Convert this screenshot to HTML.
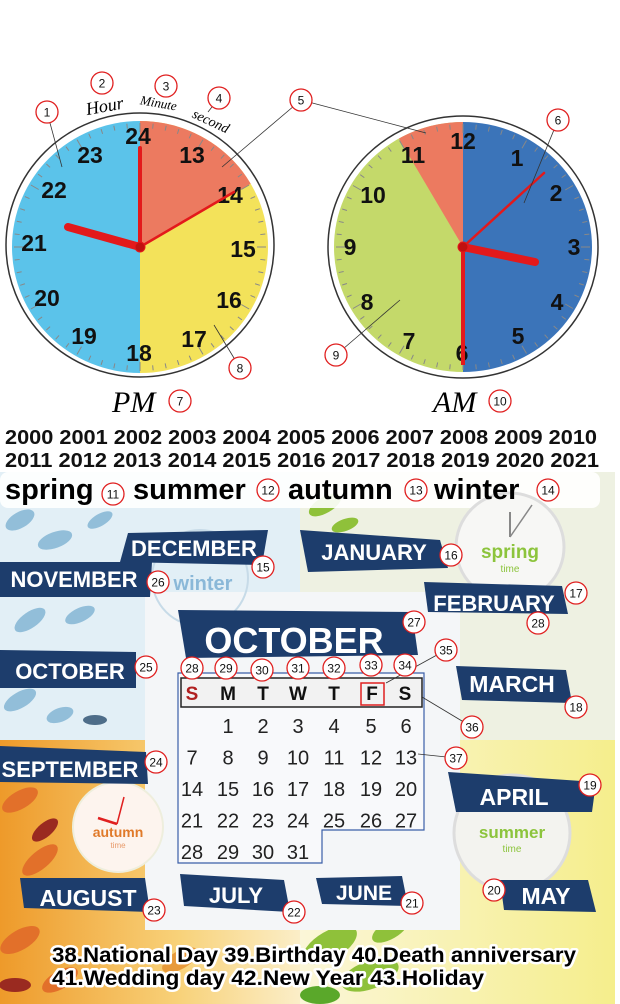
<!DOCTYPE html>
<html><head><meta charset="utf-8"><style>
html,body{margin:0;padding:0;background:#fff;}
svg{display:block;}
text{font-family:"Liberation Sans",sans-serif;}
.num{font-weight:bold;font-size:23px;fill:#111;text-anchor:middle;}
.ban{font-weight:bold;fill:#fff;text-anchor:middle;}
.yr{font-weight:bold;font-size:20px;fill:#111;}
.cc{fill:#fff;stroke:#e02020;stroke-width:1.3;}
.ct{font-size:12px;fill:#111;text-anchor:middle;}
.cal{font-size:20px;fill:#222;text-anchor:middle;}
</style></head><body>
<svg id="s" width="620" height="1004" viewBox="0 0 620 1004" xmlns="http://www.w3.org/2000/svg">
<defs>
<clipPath id="pmclip"><ellipse cx="140" cy="247" rx="128" ry="126"/></clipPath>
<clipPath id="amclip"><ellipse cx="463" cy="247" rx="129" ry="125"/></clipPath>
<linearGradient id="org" x1="0" y1="0" x2="1" y2="0"><stop offset="0" stop-color="#ee9a2a"/><stop offset="0.6" stop-color="#f8d27a"/><stop offset="1" stop-color="#fbeec8"/></linearGradient>
<linearGradient id="yel" x1="0" y1="0" x2="1" y2="0"><stop offset="0" stop-color="#fbf6d8"/><stop offset="1" stop-color="#f5ee8c"/></linearGradient>
</defs>

<!-- PM clock -->
<g>
<ellipse cx="140" cy="245" rx="134" ry="132" fill="#fff" stroke="#333" stroke-width="1.5"/>
<g clip-path="url(#pmclip)">
<rect x="0" y="100" width="140" height="300" fill="#5bc3ea"/>
<rect x="140" y="100" width="160" height="300" fill="#f3e25a"/>
<polygon points="140,247 140,90 364,90 364,119" fill="#ec7a60"/>
</g>
<g id="pmticks"></g>
</g>
<!-- AM clock -->
<g>
<ellipse cx="463" cy="247" rx="135" ry="131" fill="#fff" stroke="#333" stroke-width="1.5"/>
<g clip-path="url(#amclip)">
<rect x="320" y="100" width="143" height="300" fill="#c4d96a"/>
<rect x="463" y="100" width="150" height="300" fill="#3b74b9"/>
<polygon points="463,247 333,27 463,27" fill="#ec7a60"/>
</g>
<g id="amticks"></g>
</g>

<g>
<text class="num" x="138" y="144">24</text><text class="num" x="90" y="163">23</text><text class="num" x="192" y="163">13</text>
<text class="num" x="54" y="198">22</text><text class="num" x="230" y="203">14</text><text class="num" x="34" y="251">21</text>
<text class="num" x="243" y="257">15</text><text class="num" x="47" y="306">20</text><text class="num" x="229" y="308">16</text>
<text class="num" x="84" y="344">19</text><text class="num" x="194" y="347">17</text><text class="num" x="139" y="361">18</text>
</g>
<g>
<text class="num" x="463" y="149">12</text><text class="num" x="413" y="163">11</text><text class="num" x="517" y="166">1</text>
<text class="num" x="373" y="203">10</text><text class="num" x="556" y="201">2</text><text class="num" x="350" y="255">9</text>
<text class="num" x="574" y="255">3</text><text class="num" x="367" y="310">8</text><text class="num" x="557" y="310">4</text>
<text class="num" x="409" y="349">7</text><text class="num" x="518" y="344">5</text><text class="num" x="462" y="361">6</text>
</g>
<g stroke="#e3191b" stroke-linecap="round">
<line x1="140" y1="247" x2="140" y2="148" stroke-width="4"/>
<line x1="140" y1="247" x2="68" y2="227" stroke-width="8"/>
<line x1="140" y1="247" x2="234" y2="192" stroke-width="2.5"/>
<circle cx="140" cy="247" r="5" fill="#c01010"/>
<line x1="463" y1="247" x2="544" y2="173" stroke-width="2.5"/>
<line x1="463" y1="247" x2="535" y2="262" stroke-width="8"/>
<line x1="463" y1="247" x2="463" y2="365" stroke-width="4" stroke-linecap="butt"/>
<circle cx="463" cy="247" r="5" fill="#c01010"/>
</g>
<g font-family="Liberation Serif" font-style="italic">
<text x="86" y="112" font-size="18" transform="rotate(-10 104 108)" style="font-family:'Liberation Serif',serif">Hour</text>
<text x="140" y="108" font-size="13" transform="rotate(10 162 104)" style="font-family:'Liberation Serif',serif">Minute</text>
<text x="192" y="126" font-size="14" transform="rotate(25 212 120)" style="font-family:'Liberation Serif',serif">second</text>
<text x="112" y="412" font-size="30" style="font-family:'Liberation Serif',serif">PM</text>
<text x="433" y="412" font-size="30" style="font-family:'Liberation Serif',serif">AM</text>
</g>
<g stroke="#333" stroke-width="0.8">
<line x1="301" y1="100" x2="222" y2="167"/><line x1="301" y1="100" x2="426" y2="133"/>
<line x1="47" y1="112" x2="62" y2="167"/><line x1="558" y1="120" x2="524" y2="203"/>
<line x1="240" y1="368" x2="214" y2="325"/><line x1="336" y1="355" x2="400" y2="300"/>
<line x1="166" y1="86" x2="160" y2="95"/><line x1="219" y1="98" x2="208" y2="112"/>
</g>

<!-- Years -->
<g>
<text class="yr" x="5" y="444" textLength="592" lengthAdjust="spacingAndGlyphs">2000 2001 2002 2003 2004 2005 2006 2007 2008 2009 2010</text>
<text class="yr" x="5" y="467" textLength="594" lengthAdjust="spacingAndGlyphs">2011 2012 2013 2014 2015 2016 2017 2018 2019 2020 2021</text>
</g>

<!-- Background collage -->
<g>
<rect x="0" y="472" width="300" height="268" fill="#e2eff6"/>
<rect x="300" y="472" width="315" height="268" fill="#eef1e2"/>
<rect x="0" y="740" width="300" height="264" fill="url(#org)"/>
<rect x="300" y="740" width="315" height="264" fill="url(#yel)"/>
<g fill="#7fb3d3" opacity="0.8">
<ellipse cx="20" cy="520" rx="16" ry="8" transform="rotate(-30 20 520)"/><ellipse cx="55" cy="540" rx="18" ry="8" transform="rotate(-20 55 540)"/>
<ellipse cx="30" cy="620" rx="18" ry="8" transform="rotate(-35 30 620)"/><ellipse cx="80" cy="615" rx="16" ry="7" transform="rotate(-25 80 615)"/>
<ellipse cx="20" cy="700" rx="18" ry="8" transform="rotate(-30 20 700)"/><ellipse cx="60" cy="715" rx="14" ry="7" transform="rotate(-20 60 715)"/>
<ellipse cx="100" cy="520" rx="14" ry="6" transform="rotate(-30 100 520)"/><ellipse cx="95" cy="720" rx="12" ry="5" fill="#2a4d6e"/>
</g>
<g fill="#8fc13a">
<ellipse cx="325" cy="505" rx="18" ry="8" transform="rotate(-30 325 505)"/><ellipse cx="345" cy="525" rx="14" ry="6" transform="rotate(-20 345 525)"/>
<ellipse cx="330" cy="945" rx="30" ry="14" transform="rotate(-30 330 945)"/><ellipse cx="370" cy="975" rx="30" ry="14" transform="rotate(-20 370 975)"/>
<ellipse cx="320" cy="995" rx="20" ry="9" fill="#5aa82a"/><ellipse cx="390" cy="930" rx="20" ry="9" transform="rotate(-30 390 930)"/>
</g>
<g fill="#e2702a">
<ellipse cx="20" cy="800" rx="20" ry="9" transform="rotate(-30 20 800)"/><ellipse cx="40" cy="860" rx="22" ry="9" transform="rotate(-40 40 860)"/>
<ellipse cx="20" cy="940" rx="22" ry="10" transform="rotate(-30 20 940)"/><ellipse cx="60" cy="980" rx="20" ry="9" transform="rotate(-30 60 980)"/>
<ellipse cx="45" cy="830" rx="16" ry="7" fill="#9a2a20" transform="rotate(-40 45 830)"/><ellipse cx="15" cy="985" rx="16" ry="7" fill="#9a2a20"/>
<ellipse cx="180" cy="960" rx="20" ry="9" fill="#e89a3a" transform="rotate(-30 180 960)"/>
</g>
<rect x="145" y="592" width="315" height="338" fill="#f4f6f8"/>
<rect x="0" y="472" width="600" height="36" rx="8" fill="#fff" opacity="0.9"/>
<!-- small clocks -->
<g><circle cx="510" cy="547" r="54" fill="#f7f7f5" stroke="#ddd" stroke-width="3"/>
<text x="510" y="558" text-anchor="middle" font-weight="bold" font-size="19" fill="#8cc43c">spring</text><text x="510" y="572" text-anchor="middle" font-size="10" fill="#8cc43c">time</text>
<line x1="510" y1="537" x2="510" y2="512" stroke="#888" stroke-width="2"/><line x1="510" y1="537" x2="532" y2="505" stroke="#888" stroke-width="1.5"/></g>
<g><circle cx="200" cy="578" r="48" fill="none" stroke="#c7dbe8" stroke-width="2"/>
<text x="203" y="590" text-anchor="middle" font-weight="bold" font-size="20" fill="#8ab8d8">winter</text></g>
<g><circle cx="118" cy="827" r="45" fill="#fdf4ee" stroke="#eed" stroke-width="2"/>
<text x="118" y="837" text-anchor="middle" font-weight="bold" font-size="14" fill="#e07a2a">autumn</text><text x="118" y="848" text-anchor="middle" font-size="8" fill="#e89a6a">time</text>
<line x1="117" y1="824" x2="124" y2="797" stroke="#e02020" stroke-width="1.5"/><line x1="117" y1="824" x2="98" y2="818" stroke="#e02020" stroke-width="2.5"/></g>
<g><circle cx="512" cy="833" r="58" fill="#f3f3ef" stroke="#ddd" stroke-width="3"/>
<text x="512" y="838" text-anchor="middle" font-weight="bold" font-size="17" fill="#8cc43c">summer</text><text x="512" y="852" text-anchor="middle" font-size="10" fill="#8cc43c">time</text></g>
</g>

<!-- Seasons -->
<g font-weight="bold" font-size="29" fill="#000">
<text x="5" y="499">spring</text><text x="133" y="499">summer</text><text x="288" y="499">autumn</text><text x="434" y="499">winter</text>
</g>

<!-- Banners -->
<g>
<g><polygon points="128,533 268,530 262,565 120,562" fill="#1d3d6c"/><text class="ban" x="194" y="556" font-size="22">DECEMBER</text></g>
<g><polygon points="0,562 152,562 150,597 0,597" fill="#1d3d6c"/><text class="ban" x="74" y="587" font-size="22">NOVEMBER</text></g>
<g><polygon points="300,530 440,540 448,568 308,572" fill="#1d3d6c"/><text class="ban" x="374" y="560" font-size="22">JANUARY</text></g>
<g><polygon points="424,582 562,586 568,614 428,612" fill="#1d3d6c"/><text class="ban" x="494" y="611" font-size="22">FEBRUARY</text></g>
<g><polygon points="178,610 412,612 418,655 186,658" fill="#1d3d6c"/><text class="ban" x="294" y="653" font-size="36">OCTOBER</text></g>
<g><polygon points="0,650 136,652 136,688 0,688" fill="#1d3d6c"/><text class="ban" x="70" y="679" font-size="22">OCTOBER</text></g>
<g><polygon points="456,666 566,670 572,703 462,700" fill="#1d3d6c"/><text class="ban" x="512" y="692" font-size="23">MARCH</text></g>
<g><polygon points="0,746 146,752 148,784 0,782" fill="#1d3d6c"/><text class="ban" x="70" y="777" font-size="22">SEPTEMBER</text></g>
<g><polygon points="448,772 596,782 592,812 456,812" fill="#1d3d6c"/><text class="ban" x="514" y="805" font-size="23">APRIL</text></g>
<g><polygon points="20,878 145,878 150,912 24,908" fill="#1d3d6c"/><text class="ban" x="88" y="906" font-size="23">AUGUST</text></g>
<g><polygon points="180,874 284,880 290,912 184,906" fill="#1d3d6c"/><text class="ban" x="236" y="903" font-size="22">JULY</text></g>
<g><polygon points="316,878 402,876 408,906 322,904" fill="#1d3d6c"/><text class="ban" x="364" y="900" font-size="21">JUNE</text></g>
<g><polygon points="500,880 588,880 596,912 504,910" fill="#1d3d6c"/><text class="ban" x="546" y="904" font-size="23">MAY</text></g>
</g>

<!-- Calendar -->
<g>
<path d="M178,673 H424 V830 H322 V863 H178 Z" fill="#f8f9fb" stroke="#3a5fa8" stroke-width="1.2"/>
<rect x="181" y="678" width="241" height="29" fill="#f2f2f2" stroke="#222" stroke-width="1.5"/>
<rect x="361" y="683" width="23" height="22" fill="none" stroke="#e02020" stroke-width="1.5"/>
<g font-weight="bold" font-size="19" text-anchor="middle" fill="#111">
<text x="192" y="700" fill="#b02020">S</text><text x="228" y="700">M</text><text x="263" y="700">T</text><text x="298" y="700">W</text><text x="334" y="700">T</text><text x="372" y="700">F</text><text x="405" y="700">S</text>
</g>
<g id="caldays"></g>
</g>

<g stroke="#333" stroke-width="0.8">
<line x1="446" y1="650" x2="386" y2="683"/><line x1="472" y1="727" x2="422" y2="697"/><line x1="456" y1="758" x2="418" y2="754"/>
</g>
<g id="callouts"></g>

<g font-weight="bold" font-size="21" fill="#000" stroke="#fff" stroke-width="5" paint-order="stroke" stroke-linejoin="round">
<text x="52" y="962" textLength="524" lengthAdjust="spacingAndGlyphs">38.National Day 39.Birthday 40.Death anniversary</text>
<text x="52" y="985" textLength="432" lengthAdjust="spacingAndGlyphs">41.Wedding day  42.New Year 43.Holiday</text>
</g>
</svg>
<script>
var NS='http://www.w3.org/2000/svg';
function mk(t,a,p){var e=document.createElementNS(NS,t);for(var k in a)e.setAttribute(k,a[k]);p.appendChild(e);return e;}
function ticks(g,cx,cy,rx,ry){g=document.getElementById(g);for(var i=0;i<60;i++){var a=i*Math.PI/30,l=i%5==0?9:5;
var e=mk('line',{x1:cx+Math.sin(a)*rx,y1:cy-Math.cos(a)*ry,x2:cx+Math.sin(a)*(rx-l),y2:cy-Math.cos(a)*(ry-l),stroke:'#888','stroke-width':1},g);

}}
ticks('pmticks',140,247,126,124);ticks('amticks',463,247,127,123);
var calDays=[["",1,2,3,4,5,6],[7,8,9,10,11,12,13],[14,15,16,17,18,19,20],[21,22,23,24,25,26,27],[28,29,30,31]];
var colX=[192,228,263,298,334,371,406];
var cg=document.getElementById('caldays');
calDays.forEach(function(r,ri){r.forEach(function(d,ci){if(d==="")return;
var t=mk('text',{class:'cal',x:colX[ci],y:733+ri*31.5,fill:ci==0?'#b02020':'#222'},cg);t.textContent=d;

});});
var callouts=[[1,47,112],[2,102,83],[3,166,86],[4,219,98],[5,301,100],[6,558,120],[7,180,401],[8,240,368],[9,336,355],[10,500,401],
[11,113,494],[12,268,490],[13,416,490],[14,548,490],[15,263,567],[16,451,555],[17,576,593],[18,576,707],[19,590,785],[20,494,890],
[21,412,903],[22,294,912],[23,154,910],[24,156,762],[25,146,667],[26,158,582],[27,414,622],[28,538,623],
[28,192,668],[29,226,668],[30,262,670],[31,298,668],[32,334,668],[33,371,665],[34,405,665],[35,446,650],[36,472,727],[37,456,758]];
var cg2=document.getElementById('callouts');
callouts.forEach(function(c){var g=mk('g',{},cg2);


mk('circle',{class:'cc',cx:c[1],cy:c[2],r:11},g);var t=mk('text',{class:'ct',x:c[1],y:c[2]+4.5},g);t.textContent=c[0];});
</script>
</body></html>
